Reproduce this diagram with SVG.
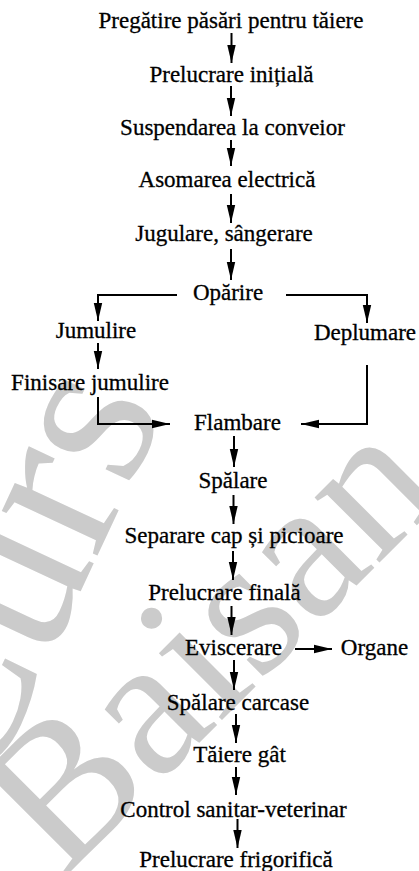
<svg xmlns="http://www.w3.org/2000/svg" width="419" height="871" viewBox="0 0 419 871">
<style>
.t{font-family:"Liberation Serif","Times New Roman",Times,serif;font-size:23px;fill:#000;stroke:#000;stroke-width:0.3;text-anchor:middle}
.c{fill:none;stroke:#000;stroke-width:2}
.wm{font-family:"Liberation Serif","Times New Roman",Times,serif;fill:#cbcbcb}
</style>
<defs>
<marker id="ah" markerUnits="userSpaceOnUse" markerWidth="20" markerHeight="10" refX="18" refY="5" orient="auto">
<path d="M0,0.8 L18,5 L0,9.2 z" fill="#000"/>
</marker>
</defs>
<rect width="419" height="871" fill="#fff"/>
<g id="watermark">
<text class="wm" font-size="230" transform="translate(-18,803) rotate(-65)">Curs</text>
<text class="wm" font-size="200" transform="translate(62,880) rotate(-45)">Baisan</text>
</g>
<g id="connectors" class="c" marker-end="url(#ah)">
<path d="M231.5,33V63"/>
<path d="M231,86V116"/>
<path d="M231,140V166"/>
<path d="M231,194V223"/>
<path d="M231,249V280"/>
<path d="M177,295H98V321"/>
<path d="M286,295H367V323"/>
<path d="M98,343V369"/>
<path d="M98,397V424H170"/>
<path d="M367,365V424H301"/>
<path d="M234,436V467"/>
<path d="M233.5,495V524"/>
<path d="M233,551V580"/>
<path d="M231.5,606V635"/>
<path d="M234,660V690"/>
<path d="M295,649H332"/>
<path d="M236,714V743"/>
<path d="M236,767V795"/>
<path d="M237.5,819V848"/>
</g>
<g id="n1"><text class="t" x="231" y="28">Pregătire păsări pentru tăiere</text></g>
<g id="n2"><text class="t" x="231.5" y="82">Prelucrare inițială</text></g>
<g id="n3"><text class="t" x="232.5" y="135">Suspendarea la conveior</text></g>
<g id="n4"><text class="t" x="227" y="187">Asomarea electrică</text></g>
<g id="n5"><text class="t" x="224" y="241">Jugulare, sângerare</text></g>
<g id="n6"><text class="t" x="228" y="300">Opărire</text></g>
<g id="n7"><text class="t" x="96" y="338">Jumulire</text></g>
<g id="n8"><text class="t" x="365" y="340">Deplumare</text></g>
<g id="n9"><text class="t" x="90" y="390">Finisare jumulire</text></g>
<g id="n10"><text class="t" x="237.5" y="430">Flambare</text></g>
<g id="n11"><text class="t" x="233" y="488">Spălare</text></g>
<g id="n12"><text class="t" x="234" y="543">Separare cap și picioare</text></g>
<g id="n13"><text class="t" x="224.5" y="600">Prelucrare finală</text></g>
<g id="n14"><text class="t" x="233.5" y="655">Eviscerare</text></g>
<g id="n15"><text class="t" x="374.5" y="655">Organe</text></g>
<g id="n16"><text class="t" x="238" y="710">Spălare carcase</text></g>
<g id="n17"><text class="t" x="239.5" y="762">Tăiere gât</text></g>
<g id="n18"><text class="t" x="233.5" y="817">Control sanitar-veterinar</text></g>
<g id="n19"><text class="t" x="236" y="867">Prelucrare frigorifică</text></g>
</svg>
